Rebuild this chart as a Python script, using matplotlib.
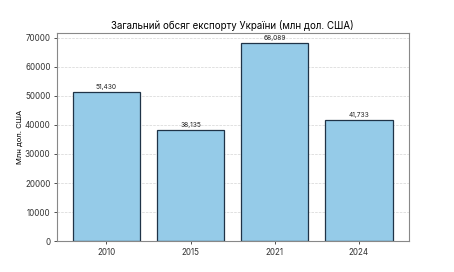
import matplotlib.pyplot as plt

years = ["2010", "2015", "2021", "2024"]
exports = [51430, 38135, 68089, 41733]

plt.rcParams["font.family"] = ["Inter", "DejaVu Sans"]

fig, ax = plt.subplots(figsize=(4.54, 2.72), dpi=100)
fig.subplots_adjust(left=0.125, right=0.9, top=0.878, bottom=0.113)

bars = ax.bar(years, exports, width=0.8, color="#95cbe8", edgecolor="#1f3347", linewidth=0.9)
for bar, v in zip(bars, exports):
    ax.text(bar.get_x() + bar.get_width() / 2, v + 700, f"{v:,}",
            ha="center", va="bottom", fontsize=4.8, color="#222222")

ax.set_ylim(0, max(exports) * 1.05)
ax.set_yticks(range(0, 70001, 10000))
ax.set_title("Загальний обсяг експорту України (млн дол. США)", fontsize=7, pad=3)
ax.set_ylabel("Млн дол. США", fontsize=5.5, labelpad=1)
ax.tick_params(labelsize=5.8, length=2.5, width=0.6, pad=2, colors="#333333")
ax.yaxis.grid(True, linestyle="--", color="#d5d5d5", linewidth=0.5)
ax.set_axisbelow(True)
for s in ax.spines.values():
    s.set_color("#888888")
    s.set_linewidth(0.8)

fig.savefig("out.png", dpi=100)
